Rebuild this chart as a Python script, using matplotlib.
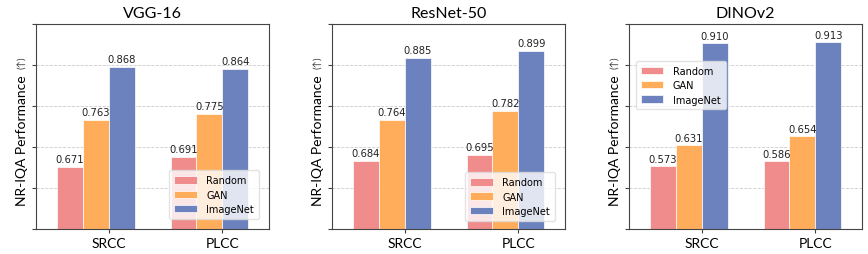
import numpy as np
import matplotlib
matplotlib.use('Agg')
import matplotlib.pyplot as plt

# data
models = ['VGG-16', 'ResNet-50', 'DINOv2']
metrics = ['SRCC', 'PLCC']
series = ['Random', 'GAN', 'ImageNet']
random_vals = [[0.671, 0.691], [0.684, 0.695], [0.573, 0.586]]
gan_vals = [[0.763, 0.775], [0.764, 0.782], [0.631, 0.654]]
imagenet_vals = [[0.868, 0.864], [0.885, 0.899], [0.910, 0.913]]
ylims = [(0.55, 0.952), (0.55, 0.952), (0.40, 0.962)]

colors = ['#F08C8C', '#FFAD5A', '#6C82BF']
label_font = ['Lato', 'DejaVu Sans']
leg_pos = [('lower right', (0.957, 0.049)), ('lower right', (0.957, 0.04)),
           ('upper left', (0.03, 0.82))]

fig = plt.figure(figsize=(8.68, 2.55), dpi=100)
lefts = [36, 332, 629]
x = np.arange(len(metrics))
w = 0.228

for k in range(3):
    ax = fig.add_axes([lefts[k] / 868, 25 / 255, 233 / 868, 205 / 255])
    vals = [random_vals[k], gan_vals[k], imagenet_vals[k]]
    for i in range(3):
        bars = ax.bar(x + (i - 2) * w, vals[i], w, align='edge', color=colors[i],
                      edgecolor='white', linewidth=0.5, label=series[i], zorder=2)
        for b, v in zip(bars, vals[i]):
            ax.text(b.get_x() + b.get_width() / 2, v + 0.006, f'{v:.3f}',
                    ha='center', va='bottom', fontsize=7.2, color='#222222')
    lo, hi = ylims[k]
    ax.set_ylim(lo, hi)
    ax.set_xlim(-0.64, 1.41)
    ax.set_yticks(np.linspace(lo, hi, 6))
    ax.set_yticklabels([])
    ax.tick_params(axis='y', length=3, color='#444444')
    ax.tick_params(axis='x', length=3, color='#444444', pad=3)
    ax.set_xticks(x)
    ax.set_xticklabels(metrics, family=label_font, fontsize=10)
    ax.grid(axis='y', linestyle='--', color='#cccccc', linewidth=0.6, zorder=0)
    for s in ax.spines.values():
        s.set_color('#444444')
        s.set_linewidth(0.8)
    ax.set_title(models[k], family=label_font, fontsize=11.5, pad=5)
    ax.text(-0.06, 0.437, 'NR-IQA Performance', transform=ax.transAxes, rotation=90,
            ha='center', va='center', family=label_font, fontsize=10)
    ax.text(-0.058, 0.815, '(↑)', transform=ax.transAxes, rotation=90,
            ha='center', va='center', family=label_font, fontsize=7, color='#333333')
    loc, anchor = leg_pos[k]
    ax.legend(loc=loc, bbox_to_anchor=anchor, borderaxespad=0, fontsize=7,
              framealpha=0.8, handlelength=2.3, handleheight=0.8, borderpad=0.5,
              labelspacing=0.45, handletextpad=1.0, edgecolor='#dddddd')

fig.savefig('out.png', dpi=100)
